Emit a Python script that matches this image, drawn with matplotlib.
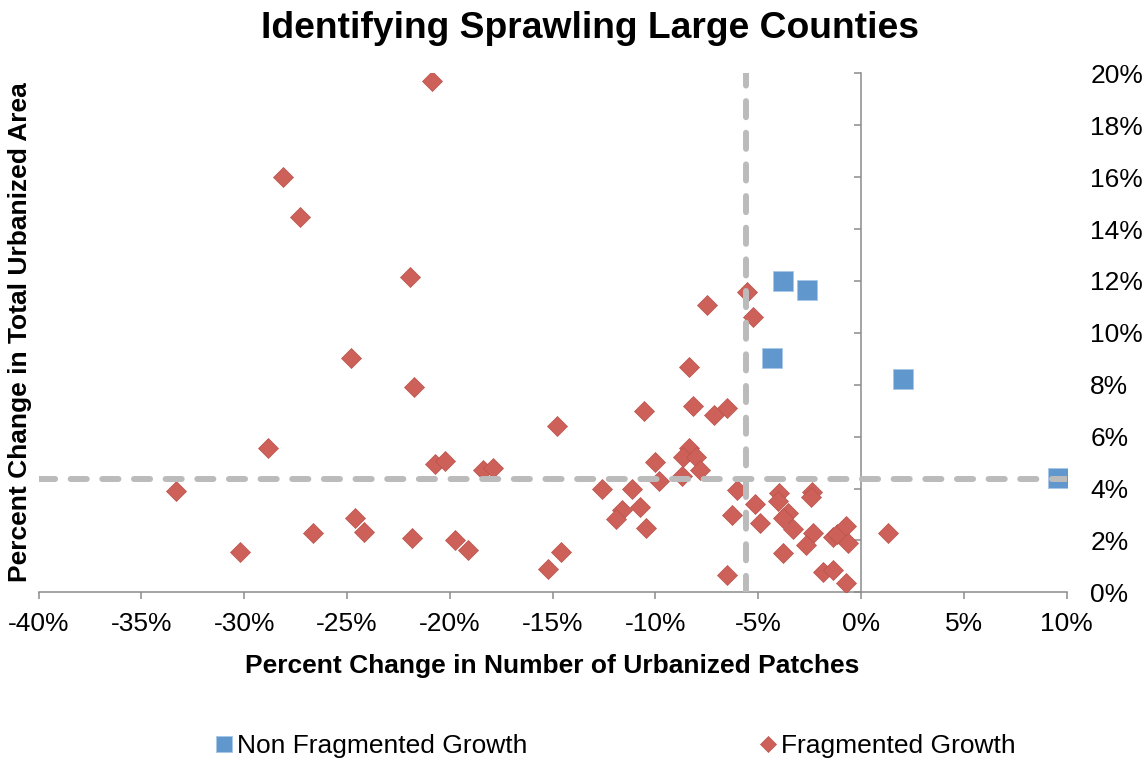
import matplotlib
matplotlib.use("Agg")
import matplotlib.pyplot as plt
from matplotlib.ticker import PercentFormatter

plt.rcParams["font.family"] = ["Liberation Sans", "DejaVu Sans"]
plt.rcParams["axes.unicode_minus"] = False

# Counties whose number of urbanized patches held steady or fell while area grew
nonfrag_patches = [-3.81, -2.61, -4.33, 2.06, 9.60]
nonfrag_area = [12.01, 11.65, 9.04, 8.23, 4.42]

# Counties whose growth added new urbanized patches
frag_patches = [-20.88, -28.13, -27.29, -21.95, -24.81, -21.73, -28.83, -20.72,
                -20.23, -18.40, -17.88, -33.33, -24.62, -24.19, -26.67, -21.85,
                -19.73, -19.13, -30.22, -5.53, -7.51, -5.24, -8.37, -10.54,
                -8.16, -7.13, -6.53, -14.80, -8.37, -8.64, -8.04, -10.02,
                -7.83, -8.72, -9.82, -12.61, -11.14, -6.02, -3.97, -4.02,
                -2.40, -2.43, -11.64, -10.75, -11.92, -5.16, -3.57, -3.78,
                -6.29, -10.47, -4.91, -3.29, -2.32, -2.68, -1.35, -1.18,
                -0.74, -0.65, 1.33, -3.78, -14.61, -15.24, -6.53, -1.86,
                -1.35, -0.74]
frag_area = [19.70, 15.99, 14.47, 12.16, 9.02, 7.90, 5.55, 4.93,
             5.07, 4.71, 4.78, 3.92, 2.86, 2.34, 2.27, 2.10,
             2.00, 1.63, 1.57, 11.58, 11.07, 10.62, 8.67, 7.00,
             7.19, 6.84, 7.09, 6.41, 5.55, 5.23, 5.23, 5.03,
             4.71, 4.49, 4.29, 3.97, 3.97, 3.94, 3.81, 3.53,
             3.88, 3.69, 3.17, 3.30, 2.81, 3.40, 3.04, 2.85,
             2.98, 2.47, 2.66, 2.43, 2.27, 1.82, 2.12, 2.25,
             2.55, 1.89, 2.27, 1.50, 1.57, 0.89, 0.67, 0.80,
             0.86, 0.35]

# Threshold reference lines
patch_threshold = -5.58
area_threshold = 4.37

x_ticks = list(range(-40, 11, 5))
y_ticks = list(range(0, 21, 2))

blue = "#6097CD"
red = "#CD6159"
grey_axis = "#8C8C8C"
grey_dash = "#BBBBBB"
fs = 19

fig = plt.figure(figsize=(11.46, 7.59), dpi=100)
ax = fig.add_axes([0.0337, 0.2196, 0.8970, 0.6838])

ax.plot(nonfrag_patches, nonfrag_area, linestyle="none", marker="s",
        markersize=14.0, color=blue, markeredgecolor="#A9C8E8",
        markeredgewidth=0.6, label="Non Fragmented Growth", zorder=3)
ax.plot(frag_patches, frag_area, linestyle="none", marker="D",
        markersize=10.0, color=red, markeredgecolor="#B9524B",
        markeredgewidth=0.5, label="Fragmented Growth", zorder=3)

dash_kw = dict(color=grey_dash, linewidth=4.3, linestyle=(0, (2.7, 2.6)),
               dash_capstyle="round", zorder=4)
ax.axvline(patch_threshold, **dash_kw)
ax.axhline(area_threshold, **dash_kw)

ax.set_xlim(-40, 10)
ax.set_ylim(0, 20)
ax.set_xticks(x_ticks)
ax.set_yticks(y_ticks)
ax.xaxis.set_major_formatter(PercentFormatter(xmax=100, decimals=0))
ax.yaxis.set_major_formatter(PercentFormatter(xmax=100, decimals=0))

for side in ("top", "right"):
    ax.spines[side].set_visible(False)
ax.spines["left"].set_position(("data", 0))
for side in ("left", "bottom"):
    ax.spines[side].set_color(grey_axis)
    ax.spines[side].set_linewidth(1.1)

ax.tick_params(axis="x", direction="out", length=5, width=1.1,
               color=grey_axis, labelsize=fs, pad=9)
ax.tick_params(axis="y", direction="out", length=5, width=1.1,
               color=grey_axis, labelsize=fs, left=True, right=False,
               labelleft=False, labelright=True, pad=12)
for lab in ax.get_yticklabels():
    lab.set_horizontalalignment("left")

ax.set_xlabel("Percent Change in Number of Urbanized Patches",
              fontsize=fs, fontweight="bold", labelpad=13)
fig.text(0.0175, 0.5625, "Percent Change in Total Urbanized Area",
         rotation=90, ha="center", va="center", fontsize=fs,
         fontweight="bold")

fig.text(590 / 1146, 1 - 28 / 759, "Identifying Sprawling Large Counties",
         ha="center", va="center", fontsize=26.8, fontweight="bold")

fig.legend(loc="center left", bbox_to_anchor=(215 / 1146, 1 - 746 / 759),
           ncol=2, frameon=False, fontsize=fs, handlelength=0.7,
           handletextpad=0.15, columnspacing=8.75, borderpad=0,
           borderaxespad=0, markerscale=0.85)

fig.savefig("out.png", dpi=100)
